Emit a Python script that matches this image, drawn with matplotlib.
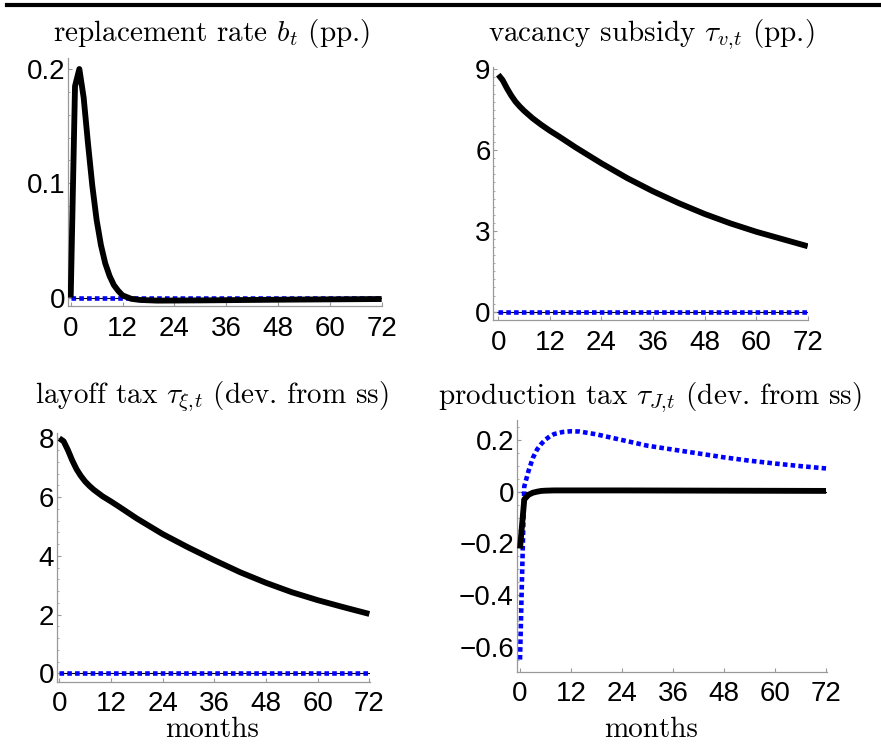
import numpy as np
import matplotlib
matplotlib.use('Agg')
import matplotlib.pyplot as plt
from matplotlib.lines import Line2D
from matplotlib.ticker import MultipleLocator, FuncFormatter

plt.rcParams['mathtext.fontset'] = 'cm'
plt.rcParams['font.family'] = ['Liberation Sans', 'DejaVu Sans']

# replacement rate b_t (pp.)
b_months = [0, 1, 2, 3, 4, 5, 6, 7, 8, 9, 10, 11, 12, 14, 16, 20, 30, 48, 72]
b_opt = [0, 0.185, 0.200, 0.175, 0.135, 0.098, 0.068, 0.046, 0.030, 0.019,
         0.011, 0.006, 0.002, -0.001, -0.002, -0.0026, -0.0024, -0.0018, -0.0012]
b_alt_months = [0, 72]
b_alt = [0.0, 0.0]

# vacancy subsidy tau_v,t (pp.)
v_months = [0, 1, 2, 3, 4, 5, 6, 8, 10, 12, 14, 18, 24, 30, 36, 42, 48, 54, 60, 66, 72]
v_opt = [8.8, 8.6, 8.3, 8.03, 7.8, 7.62, 7.46, 7.18, 6.94, 6.72, 6.52, 6.1, 5.51,
         4.96, 4.47, 4.03, 3.63, 3.28, 2.97, 2.7, 2.43]
v_alt_months = [0, 72]
v_alt = [0.0, 0.0]

# layoff tax tau_xi,t (dev. from ss)
l_months = [0, 1, 2, 3, 4, 5, 6, 7, 8, 10, 12, 14, 18, 24, 30, 36, 42, 48, 54, 60, 66, 72]
l_opt = [8.0, 7.9, 7.6, 7.25, 6.95, 6.72, 6.53, 6.38, 6.25, 6.03, 5.85, 5.66, 5.27,
         4.74, 4.28, 3.85, 3.44, 3.08, 2.76, 2.49, 2.25, 2.02]
l_alt_months = [0, 72]
l_alt = [0.0, 0.0]

# production tax tau_J,t (dev. from ss)
p_months = [0, 1, 2, 3, 4, 5, 6, 8, 12, 24, 48, 72]
p_opt = [-0.22, -0.03, -0.012, -0.004, 0.0, 0.003, 0.004, 0.005, 0.005, 0.005, 0.004, 0.003]
p_alt_months = [0, 1, 2, 3, 4, 5, 6, 7, 8, 10, 12, 14, 18, 24, 30, 36, 42, 48, 54, 60, 66, 72]
p_alt = [-0.65, 0.02, 0.08, 0.13, 0.163, 0.185, 0.202, 0.214, 0.223, 0.231, 0.234,
         0.233, 0.222, 0.2, 0.178, 0.163, 0.148, 0.133, 0.12, 0.109, 0.099, 0.09]

W, H = 881, 752
fig = plt.figure(figsize=(W / 100, H / 100), dpi=100)

def px_axes(l, t, r, b):
    return fig.add_axes([l / W, 1 - b / H, (r - l) / W, (b - t) / H])

def fmt(v, p):
    if abs(v) < 1e-9:
        return '0'
    return ('%g' % v).replace('-', '\u2212')

panels = [
    dict(box=(68, 58, 382.3, 306), xlim=(-0.625, 72.15), ylim=(-0.0073, 0.2096),
         major=0.1, minor=0.02, x=b_months, y=b_opt, xa=b_alt_months, ya=b_alt,
         title=r'replacement rate $b_t$ (pp.)', tpos=(211.5, 33)),
    dict(box=(493.3, 66.7, 808, 320), xlim=(-1.16, 72.07), ylim=(-0.308, 9.097),
         major=3, minor=0.3, x=v_months, y=v_opt, xa=v_alt_months, ya=v_alt,
         title=r'vacancy subsidy $\tau_{v,\!t}$ (pp.)', tpos=(650.7, 35)),
    dict(box=(56.7, 433.3, 370, 681.7), xlim=(-0.6, 72.15), ylim=(-0.286, 8.17),
         major=2, minor=0.4, x=l_months, y=l_opt, xa=l_alt_months, ya=l_alt,
         title=r'layoff tax $\tau_{\xi,\!t}$ (dev. from ss)', tpos=(212, 397)),
    dict(box=(516.7, 420, 826.7, 671.7), xlim=(-0.78, 72.16), ylim=(-0.697, 0.2776),
         major=0.2, minor=0.05, x=p_months, y=p_opt, xa=p_alt_months, ya=p_alt,
         title=r'production tax $\tau_{J,\!t}$ (dev. from ss)', tpos=(650, 398)),
]

for pnl in panels:
    ax = px_axes(*pnl['box'])
    ax.axhline(0, color='black', lw=0.8, zorder=1)
    ax.plot(pnl['xa'], pnl['ya'], color='#0000ff', lw=3.3, dashes=(1.0, 0.7),
            dash_capstyle='butt', zorder=2)
    ax.plot(pnl['x'], pnl['y'], color='black', lw=4.2, solid_capstyle='butt',
            solid_joinstyle='round', zorder=3)
    ax.set_xlim(*pnl['xlim'])
    ax.set_ylim(*pnl['ylim'])
    ax.xaxis.set_major_locator(MultipleLocator(12))
    ax.yaxis.set_major_locator(MultipleLocator(pnl['major']))
    ax.yaxis.set_minor_locator(MultipleLocator(pnl['minor']))
    ax.yaxis.set_major_formatter(FuncFormatter(fmt))
    ax.xaxis.set_major_formatter(FuncFormatter(fmt))
    for s in ['top', 'right']:
        ax.spines[s].set_visible(False)
    for s in ['left', 'bottom']:
        ax.spines[s].set_color('#999999')
        ax.spines[s].set_linewidth(0.9)
    ax.tick_params(axis='both', which='both', direction='in', color='#999999',
                   labelsize=20, labelcolor='black')
    ax.tick_params(axis='both', which='major', length=3, width=0.8)
    ax.tick_params(axis='y', which='minor', length=1.6, width=0.6)
    ax.tick_params(axis='x', which='major', pad=7)
    ax.tick_params(axis='y', which='major', pad=2)
    fig.text(pnl['tpos'][0] / W, 1 - pnl['tpos'][1] / H, pnl['title'],
             fontsize=21, family='cmr10', ha='center', va='center')

fig.text(212.5 / W, 1 - 730 / H, 'months', fontsize=21, family='cmr10', ha='center', va='center')
fig.text(650.8 / W, 1 - 730 / H, 'months', fontsize=21, family='cmr10', ha='center', va='center')

fig.add_artist(Line2D([7 / W, 1.0], [1 - 4.7 / H, 1 - 4.7 / H], color='black', lw=3.0))

fig.savefig('out.png', dpi=100)
